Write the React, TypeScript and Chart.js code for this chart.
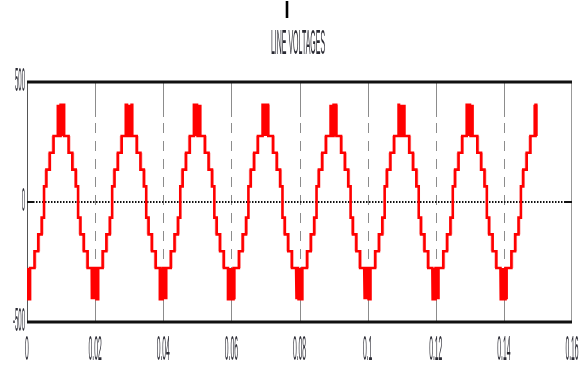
import React, { useEffect, useRef } from "react";
import { Chart, registerables } from "chart.js";

Chart.register(...registerables);

// ---- data ----
const chartTitle = "LINE VOLTAGES";
const topMark = "I";
const xTicks = [0, 0.02, 0.04, 0.06, 0.08, 0.1, 0.12, 0.14, 0.16];
const xTickLabels = ["0", "0.02", "0.04", "0.06", "0.08", "0.1", "0.12", "0.14", "0.16"];
const yTicks = [500, 0, -500];
const yTickLabels = ["500", "0", "-500"];

// peaks of the stepped line voltage (s) and their polarity
const peakTimes = [0, 0.01, 0.02, 0.03, 0.04, 0.05, 0.06, 0.07, 0.08, 0.09, 0.1, 0.11, 0.12, 0.13, 0.14, 0.15];
const peakSigns = [-1, 1, -1, 1, -1, 1, -1, 1, -1, 1, -1, 1, -1, 1, -1, 1];
// step levels (V) and where each one starts, in ms before/after the peak
const stepLevels = [65, 135, 205, 275];
const stepStartMs = [5.0, 4.3, 3.3, 2.2];
// PWM chatter at the peaks
const chatterTop = 405;
const chatterStartMs = [-1.0, -0.86, -0.72, -0.58, -0.44, -0.3, -0.16, -0.02, 0.12, 0.26, 0.4, 0.54, 0.68, 0.82];
const chatterWidthMs = 0.08;
// faint switching lines beside the step edges (ms outside the edge)
const edgeFlickerMs = [0.4, 0.22];
const endTime = 0.1496;

function buildMain() {
  const bps: { t: number; v: number }[] = [];
  peakTimes.forEach((tp, k) => {
    const s = peakSigns[k];
    for (let i = 0; i < stepLevels.length; i++) bps.push({ t: tp - stepStartMs[i] / 1000, v: s * stepLevels[i] });
    chatterStartMs.forEach((c) => {
      bps.push({ t: tp + c / 1000, v: s * chatterTop });
      bps.push({ t: tp + (c + chatterWidthMs) / 1000, v: s * stepLevels[3] });
    });
    for (let i = stepLevels.length - 2; i >= 0; i--) bps.push({ t: tp + stepStartMs[i + 1] / 1000, v: s * stepLevels[i] });
  });
  bps.sort((a, b) => a.t - b.t);
  let cur = 0;
  const pts: { x: number; y: number }[] = [];
  for (const bp of bps) {
    if (bp.t < 0) { cur = bp.v; continue; }
    if (bp.t > endTime) break;
    if (pts.length === 0) pts.push({ x: 0, y: cur });
    pts.push({ x: bp.t, y: cur });
    pts.push({ x: bp.t, y: bp.v });
    cur = bp.v;
  }
  pts.push({ x: endTime, y: cur });
  return pts;
}

function buildFlicker() {
  const raw = [] as { x: number; lo: number; hi: number }[];
  peakTimes.forEach((tp, k) => {
    const s = peakSigns[k];
    for (let i = 1; i < stepLevels.length; i++) {
      const lo = s * stepLevels[i - 1];
      const hi = s * stepLevels[i];
      edgeFlickerMs.forEach((f) => {
        [tp - (stepStartMs[i] + f) / 1000, tp + (stepStartMs[i] + f) / 1000].forEach((t) => {
          if (t >= 0 && t <= endTime) raw.push({ x: t, lo, hi });
        });
      });
    }
  });
  raw.sort((a, b) => a.x - b.x);
  const out: { x: number; y: number | null }[] = [];
  raw.forEach((r) => out.push({ x: r.x, y: r.lo }, { x: r.x, y: r.hi }, { x: r.x, y: null }));
  return out;
}

function drawStretched(ctx: CanvasRenderingContext2D, text: string, x: number, y: number, align: CanvasTextAlign, sx: number, sy: number, font: string, color: string) {
  ctx.save();
  ctx.translate(x, y);
  ctx.scale(sx, sy);
  ctx.font = font;
  ctx.fillStyle = color;
  ctx.textAlign = align;
  ctx.textBaseline = "middle";
  ctx.fillText(text, 0, 0);
  ctx.restore();
}

const framePlugin = {
  id: "scopeFrame",
  beforeDatasetsDraw(chart: any) {
    const ctx: CanvasRenderingContext2D = chart.ctx;
    const { left, right, top, bottom } = chart.chartArea;
    const xs = chart.scales.x;
    const ys = chart.scales.y;
    ctx.save();
    ctx.strokeStyle = "#8c8c8c";
    ctx.lineWidth = 1;
    xTicks.slice(1, -1).forEach((v) => {
      const px = Math.round(xs.getPixelForValue(v)) + 0.5;
      const s1 = top + 35;
      const s2 = bottom - 44;
      ctx.setLineDash([]);
      ctx.beginPath();
      ctx.moveTo(px, top);
      ctx.lineTo(px, s1);
      ctx.moveTo(px, s2);
      ctx.lineTo(px, bottom);
      ctx.stroke();
      ctx.setLineDash([10, 8]);
      ctx.beginPath();
      ctx.moveTo(px, s1 + 6);
      ctx.lineTo(px, s2);
      ctx.stroke();
    });
    ctx.setLineDash([]);
    ctx.strokeStyle = "#555";
    ctx.beginPath();
    ctx.moveTo(Math.round(left) + 0.5, top);
    ctx.lineTo(Math.round(left) + 0.5, bottom);
    ctx.stroke();
    ctx.strokeStyle = "#999";
    ctx.beginPath();
    ctx.moveTo(Math.round(right) - 0.5, top);
    ctx.lineTo(Math.round(right) - 0.5, bottom);
    ctx.stroke();
    const y0 = Math.round(ys.getPixelForValue(0));
    ctx.strokeStyle = "#111";
    ctx.lineWidth = 2;
    ctx.setLineDash([1.5, 1.5]);
    ctx.beginPath();
    ctx.moveTo(left + 6, y0);
    ctx.lineTo(right - 7, y0);
    ctx.stroke();
    ctx.setLineDash([]);
    ctx.beginPath();
    ctx.moveTo(left, y0);
    ctx.lineTo(left + 6, y0);
    ctx.moveTo(right - 7, y0);
    ctx.lineTo(right, y0);
    ctx.stroke();
    ctx.restore();
  },
  afterDatasetsDraw(chart: any) {
    const ctx: CanvasRenderingContext2D = chart.ctx;
    const { left, right } = chart.chartArea;
    const ys = chart.scales.y;
    ctx.save();
    ctx.strokeStyle = "#111";
    ctx.lineWidth = 3;
    [500, -500].forEach((v) => {
      const py = Math.round(ys.getPixelForValue(v));
      ctx.beginPath();
      ctx.moveTo(left, py);
      ctx.lineTo(right, py);
      ctx.stroke();
    });
    ctx.restore();
  },
  afterDraw(chart: any) {
    const ctx: CanvasRenderingContext2D = chart.ctx;
    const xs = chart.scales.x;
    const ys = chart.scales.y;
    const font = "20px 'Liberation Sans', Arial, sans-serif";
    const col = "#2a2a33";
    drawStretched(ctx, topMark, 287, 12, "center", 0.9, 1.15, "bold 20px 'Liberation Sans', Arial, sans-serif", "#000");
    drawStretched(ctx, chartTitle, 298, 44, "center", 0.35, 1.75, font, col);
    xTicks.forEach((v, i) => {
      drawStretched(ctx, xTickLabels[i], xs.getPixelForValue(v), 350, "center", 0.34, 1.8, font, col);
    });
    yTicks.forEach((v, i) => {
      drawStretched(ctx, yTickLabels[i], 25, ys.getPixelForValue(v), "right", 0.3, 1.7, font, col);
    });
  },
};

export default function App() {
  const ref = useRef<HTMLCanvasElement | null>(null);
  useEffect(() => {
    if (!ref.current) return;
    const chart = new Chart(ref.current, {
      type: "line",
      data: {
        datasets: [
          {
            label: "Vab",
            data: buildMain(),
            borderColor: "#ff0000",
            borderWidth: 2.6,
            pointRadius: 0,
            tension: 0,
            order: 0,
          },
          {
            label: "switching",
            data: buildFlicker(),
            borderColor: "rgba(255,60,60,0.5)",
            borderWidth: 1.2,
            pointRadius: 0,
            tension: 0,
            spanGaps: false,
            order: 1,
          },
        ],
      },
      options: {
        animation: false,
        responsive: false,
        events: [],
        layout: { padding: { left: 27, top: 82, right: 8, bottom: 44 } },
        plugins: { legend: { display: false }, tooltip: { enabled: false }, title: { display: false } },
        scales: {
          x: { type: "linear", min: 0, max: 0.16, display: false },
          y: { type: "linear", min: -500, max: 500, display: false },
        },
      },
      plugins: [framePlugin],
    });
    return () => chart.destroy();
  }, []);
  return (
    <div style={{ position: "absolute", left: 0, top: 0, width: 580, height: 366, background: "#fff" }}>
      <canvas ref={ref} width={580} height={366} style={{ display: "block" }} />
    </div>
  );
}
